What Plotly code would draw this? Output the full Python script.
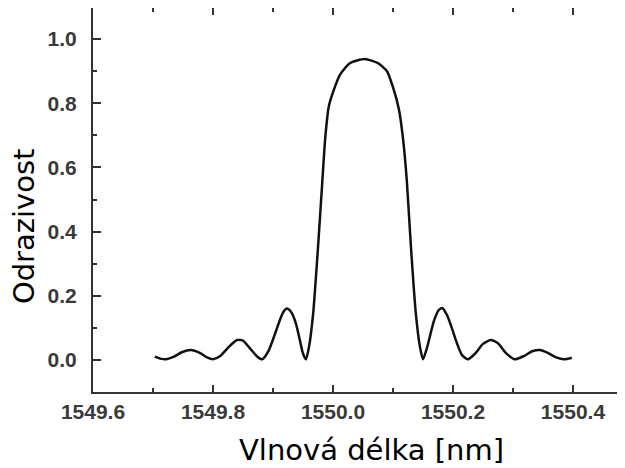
import plotly.graph_objects as go

wavelength = [1549.703, 1549.712, 1549.722, 1549.735, 1549.748, 1549.763, 1549.778, 1549.790,
              1549.800, 1549.812, 1549.826, 1549.840, 1549.850, 1549.862, 1549.874, 1549.882,
              1549.893, 1549.905, 1549.916, 1549.923, 1549.930, 1549.938, 1549.945, 1549.950,
              1549.955, 1549.960, 1549.967, 1549.975, 1549.982, 1549.987, 1549.993, 1550.002,
              1550.012, 1550.028, 1550.053, 1550.075, 1550.090, 1550.100, 1550.110, 1550.117,
              1550.123, 1550.130, 1550.138, 1550.145, 1550.150, 1550.157, 1550.168, 1550.176,
              1550.182, 1550.190, 1550.198, 1550.206, 1550.215, 1550.225, 1550.237, 1550.250,
              1550.263, 1550.275, 1550.288, 1550.303, 1550.318, 1550.332, 1550.345, 1550.358,
              1550.372, 1550.385, 1550.398]
reflectivity = [0.010, 0.004, 0.002, 0.010, 0.024, 0.031, 0.022, 0.008,
                0.002, 0.012, 0.040, 0.062, 0.060, 0.035, 0.010, 0.002,
                0.030, 0.090, 0.145, 0.160, 0.150, 0.115, 0.060, 0.020,
                0.002, 0.040, 0.146, 0.350, 0.550, 0.690, 0.790, 0.845,
                0.890, 0.925, 0.938, 0.925, 0.900, 0.850, 0.780, 0.685,
                0.560, 0.350, 0.146, 0.040, 0.002, 0.040, 0.120, 0.155,
                0.162, 0.140, 0.100, 0.055, 0.015, 0.002, 0.020, 0.050,
                0.062, 0.052, 0.022, 0.002, 0.012, 0.027, 0.031, 0.022,
                0.008, 0.002, 0.007]

x_ticks = [1549.6, 1549.8, 1550.0, 1550.2, 1550.4]
x_tick_labels = ["1549.6", "1549.8", "1550.0", "1550.2", "1550.4"]
y_ticks = [0.0, 0.2, 0.4, 0.6, 0.8, 1.0]
y_tick_labels = ["0.0", "0.2", "0.4", "0.6", "0.8", "1.0"]

x_title = "Vlnová délka [nm]"
y_title = "Odrazivost"

fig = go.Figure()
fig.add_trace(go.Scatter(x=wavelength, y=reflectivity, mode="lines",
                         line=dict(color="#111111", width=2.5, shape="spline", smoothing=0.6),
                         hoverinfo="skip"))

axis_font = dict(family="Liberation Sans, Arial, sans-serif", size=21, color="#3a3a3a", weight="bold")
title_font = dict(family="DejaVu Sans, Verdana, sans-serif", size=29, color="black")

fig.update_layout(
    width=617, height=460,
    margin=dict(l=85, r=0, t=0, b=76),
    paper_bgcolor="white", plot_bgcolor="white",
    showlegend=False,
    xaxis=dict(range=[1549.6, 1550.4867], tickmode="array", tickvals=x_ticks, ticktext=x_tick_labels,
               ticks="inside", ticklen=7, tickwidth=2, tickcolor="#333333",
               showline=True, linecolor="#333333", linewidth=2, mirror="ticks",
               showgrid=False, zeroline=False, tickfont=axis_font, automargin=False,
               ticklabelstandoff=0,
               minor=dict(dtick=0.1, tick0=1549.6, ticks="inside", ticklen=4, tickwidth=2, tickcolor="#333333")),
    yaxis=dict(range=[-0.1, 1.097], tickmode="array", tickvals=y_ticks, ticktext=y_tick_labels,
               ticks="inside", ticklen=8, tickwidth=2, tickcolor="#333333",
               showline=True, linecolor="#333333", linewidth=2, mirror=False,
               showgrid=False, zeroline=False, tickfont=axis_font, automargin=False,
               ticklabelstandoff=10,
               minor=dict(dtick=0.1, tick0=0, ticks="inside", ticklen=4, tickwidth=2, tickcolor="#333333")),
    annotations=[
        dict(text=x_title, xref="paper", yref="paper", x=0.5235, y=-0.15, xanchor="center", yanchor="middle",
             showarrow=False, font=title_font),
        dict(text=y_title, xref="paper", yref="paper", x=-0.1297, y=0.432, xanchor="center", yanchor="middle",
             textangle=-90, showarrow=False, font=title_font),
    ],
)

fig.write_html("out.html")
